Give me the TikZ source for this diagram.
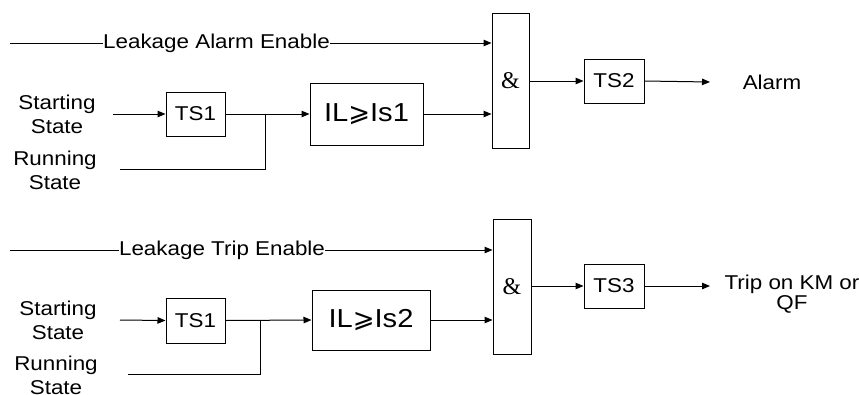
\documentclass[tikz,border=0pt]{standalone}
\usepackage{fontspec}
\setmainfont{Liberation Sans}[FakeStretch=1.12]
\newfontfamily\serifamp{Liberation Serif}
\newfontfamily\symfont{DejaVu Sans}
\usetikzlibrary{arrows.meta}
\begin{document}
\begin{tikzpicture}[x=1pt,y=-1pt,
  line width=1pt,
  txt/.style={font=\fontsize{20}{24}\selectfont, inner sep=0pt, align=center},
  blk/.style={draw, line width=1pt, inner sep=0pt, font=\fontsize{20}{24}\selectfont},
  ilbox/.style={draw, line width=1pt, inner sep=0pt, font=\fontsize{26}{30}\selectfont},
  andbox/.style={draw, line width=1pt, inner sep=0pt, font=\serifamp\fontsize{24}{28}\selectfont},
  arr/.style={-{Triangle[length=8pt,width=6.5pt]}},
]
\useasboundingbox (0,0) rectangle (859,394);

% ---------- upper chain ----------
\node[andbox, minimum width=37pt, minimum height=135pt] (amp1) at (510.5,80.5) {\&};
\node[blk, minimum width=59pt, minimum height=44pt] (ts1a) at (195.5,114) {TS1};
\node[ilbox, minimum width=113pt, minimum height=62pt] (ila) at (366.5,114) {IL{\symfont ⩾}Is1};
\node[blk, minimum width=60pt, minimum height=44pt] (ts2) at (614,81) {TS2};
\node[txt] (alarm) at (772,82) {Alarm};
\node[txt] (sta) at (57,114) {Starting\\State};
\node[txt] (runa) at (55,170) {Running\\State};
\node[txt] (ena) at (216.5,43) {Leakage Alarm Enable};
\coordinate (ena0) at (10,43);
\coordinate (sa0) at (113,114);
\coordinate (ra0) at (120,169);
\coordinate (ja) at (265,114);
\coordinate (alarmend) at (710,82);

\draw (ena0) -- (ena.west);
\draw[arr] (ena.east) -- (ena.east -| amp1.west);
\draw[arr] (sa0) -- (ts1a.west);
\draw[arr] (ts1a.east) -- (ila.west);
\draw (ra0) -| (ja);
\draw[arr] (ila.east) -- (ila.east -| amp1.west);
\draw[arr] (amp1.east |- ts2.west) -- (ts2.west);
\draw[arr] (ts2.east) -- (alarmend);

% ---------- lower chain ----------
\node[andbox, minimum width=38pt, minimum height=135pt] (amp2) at (512,286.5) {\&};
\node[blk, minimum width=59pt, minimum height=45pt] (ts1b) at (195.5,320.5) {TS1};
\node[ilbox, minimum width=118pt, minimum height=60pt] (ilb) at (371,320) {IL{\symfont ⩾}Is2};
\node[blk, minimum width=60pt, minimum height=44pt] (ts3) at (614,286) {TS3};
\node[txt, font=\fontsize{20}{20}\selectfont] (trip) at (792,294) {Trip on KM or\\QF};
\node[txt] (stb) at (58,320) {Starting\\State};
\node[txt] (runb) at (56,375) {Running\\State};
\node[txt] (enb) at (222,250) {Leakage Trip Enable};
\coordinate (enb0) at (10,250);
\coordinate (sb0) at (120,320);
\coordinate (rb0) at (128,374);
\coordinate (jb) at (260,320);
\coordinate (tripend) at (710,286);

\draw (enb0) -- (enb.west);
\draw[arr] (enb.east) -- (enb.east -| amp2.west);
\draw[arr] (sb0) -- (ts1b.west);
\draw[arr] (ts1b.east) -- (ilb.west);
\draw (rb0) -| (jb);
\draw[arr] (ilb.east) -- (ilb.east -| amp2.west);
\draw[arr] (amp2.east |- ts3.west) -- (ts3.west);
\draw[arr] (ts3.east) -- (tripend);
\end{tikzpicture}
\end{document}
